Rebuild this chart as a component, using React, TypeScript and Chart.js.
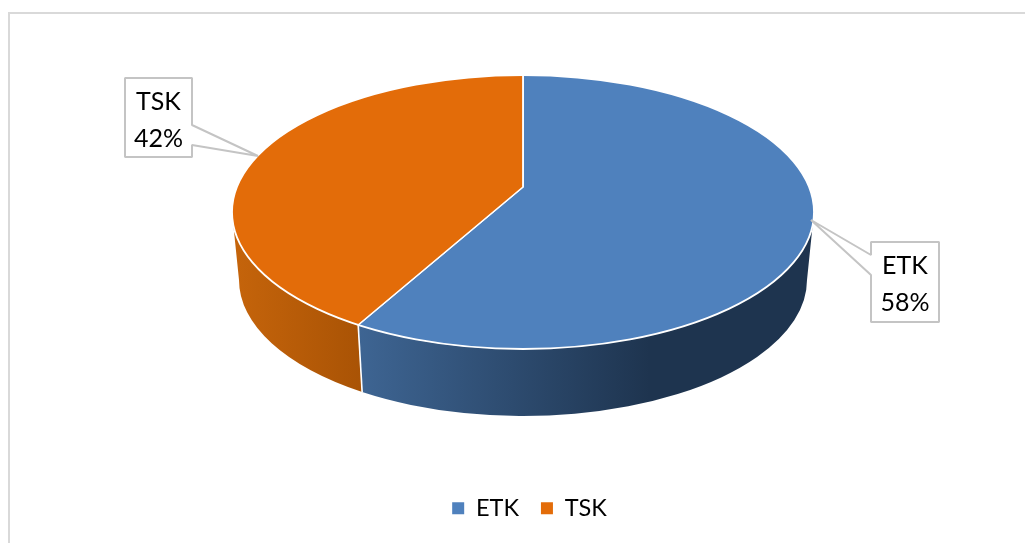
import React, { useEffect, useRef } from "react";
import { Chart, registerables } from "chart.js";

Chart.register(...registerables);

const categories = ["ETK", "TSK"];
const shares = [58, 42];
const topColors = ["#4f81bd", "#e36c09"];
const sideRamps = [
  { from: 358, to: 650, start: "#3e6593", end: "#1e344f" },
  { from: 235, to: 362, start: "#c5640b", end: "#a95305" },
];

const FONT = "Lato, 'Noto Sans', sans-serif";

// Geometry of the tilted disc: top face, its bottom rim, and the point the slices meet.
const top = { x: 523, y: 212, rx: 291, ry: 137 };
const rim = { x: 523, y: 280, rx: 284, ry: 136 };
const hub = { x: 523, y: 187 };
const tilt = 0.46;

// Callout boxes beside the disc; one entry per category.
const callouts = [
  { box: [871, 242, 939, 322], tip: [811, 220], base: [[871, 255], [871, 275]], side: "left" },
  { box: [125, 78, 192, 157], tip: [258, 156], base: [[192, 125], [192, 145]], side: "right" },
];

// Ellipse parameter of the rim point reached from the hub along a slice edge.
function rimParam(angle: number) {
  const dx = Math.cos(angle);
  const dy = Math.sin(angle) * tilt;
  const ox = (hub.x - top.x) / top.rx;
  const oy = (hub.y - top.y) / top.ry;
  const ux = dx / top.rx;
  const uy = dy / top.ry;
  const a = ux * ux + uy * uy;
  const b = 2 * (ox * ux + oy * uy);
  const c = ox * ox + oy * oy - 1;
  const t = (-b + Math.sqrt(b * b - 4 * a * c)) / (2 * a);
  let theta = Math.atan2(oy + t * uy, ox + t * ux);
  while (theta < angle - Math.PI) theta += 2 * Math.PI;
  while (theta > angle + Math.PI) theta -= 2 * Math.PI;
  return theta;
}

const discPlugin = {
  id: "disc",
  beforeDraw(chart: any) {
    const { ctx } = chart;
    ctx.save();
    ctx.strokeStyle = "#d9d9d9";
    ctx.lineWidth = 2;
    ctx.beginPath();
    ctx.moveTo(9, 543);
    ctx.lineTo(9, 13);
    ctx.lineTo(1025, 13);
    ctx.stroke();
    ctx.restore();
  },
  beforeDatasetsDraw(chart: any) {
    const { ctx } = chart;
    const arcs = chart.getDatasetMeta(0).data;

    // Side wall, one piece per slice, limited to the near half of the disc.
    ctx.save();
    arcs.forEach((arc: any, i: number) => {
      const from = Math.max(0, rimParam(arc.startAngle));
      const to = Math.min(Math.PI, rimParam(arc.endAngle));
      if (to <= from) return;
      const ramp = sideRamps[i];
      const fill = ctx.createLinearGradient(ramp.from, 0, ramp.to, 0);
      fill.addColorStop(0, ramp.start);
      fill.addColorStop(1, ramp.end);
      ctx.fillStyle = fill;
      ctx.beginPath();
      ctx.ellipse(top.x, top.y, top.rx, top.ry, 0, from, to, false);
      ctx.ellipse(rim.x, rim.y, rim.rx, rim.ry, 0, to, from, true);
      ctx.closePath();
      ctx.fill();
    });

    // Seam where the slices meet on the wall.
    const seam = rimParam(arcs[0].endAngle);
    ctx.strokeStyle = "#ffffff";
    ctx.lineWidth = 1.6;
    ctx.beginPath();
    ctx.moveTo(top.x + top.rx * Math.cos(seam), top.y + top.ry * Math.sin(seam));
    ctx.lineTo(rim.x + rim.rx * Math.cos(seam), rim.y + rim.ry * Math.sin(seam));
    ctx.stroke();
    ctx.restore();

    // Top face: the library's arcs squashed about the hub and cut to the ellipse.
    ctx.save();
    ctx.beginPath();
    ctx.ellipse(top.x, top.y, top.rx, top.ry, 0, 0, Math.PI * 2);
    ctx.clip();
    ctx.translate(hub.x, hub.y);
    ctx.scale(1, tilt);
    ctx.translate(-arcs[0].x, -arcs[0].y);
  },
  afterDatasetsDraw(chart: any) {
    const { ctx } = chart;
    ctx.restore();

    ctx.save();
    ctx.strokeStyle = "#ffffff";
    ctx.lineWidth = 1.8;
    ctx.beginPath();
    ctx.ellipse(top.x, top.y, top.rx, top.ry, 0, 0, Math.PI * 2);
    ctx.stroke();

    // Value callouts.
    const total = shares.reduce((sum, v) => sum + v, 0);
    callouts.forEach((c, i) => {
      const [l, t, r, b] = c.box;
      ctx.beginPath();
      ctx.moveTo(l, t);
      ctx.lineTo(r, t);
      if (c.side === "right") {
        ctx.lineTo(c.base[0][0], c.base[0][1]);
        ctx.lineTo(c.tip[0], c.tip[1]);
        ctx.lineTo(c.base[1][0], c.base[1][1]);
      }
      ctx.lineTo(r, b);
      ctx.lineTo(l, b);
      if (c.side === "left") {
        ctx.lineTo(c.base[1][0], c.base[1][1]);
        ctx.lineTo(c.tip[0], c.tip[1]);
        ctx.lineTo(c.base[0][0], c.base[0][1]);
      }
      ctx.closePath();
      ctx.fillStyle = "#ffffff";
      ctx.fill();
      ctx.strokeStyle = "#c4c4c4";
      ctx.lineWidth = 2;
      ctx.lineJoin = "bevel";
      ctx.stroke();

      ctx.fillStyle = "#000000";
      ctx.font = `25px ${FONT}`;
      ctx.textAlign = "center";
      ctx.textBaseline = "middle";
      const mid = (l + r) / 2;
      ctx.fillText(categories[i], mid, t + 24);
      ctx.fillText(`${Math.round((shares[i] / total) * 100)}%`, mid, t + 61);
    });
    ctx.restore();
  },
};

export default function App() {
  const ref = useRef<HTMLCanvasElement>(null);

  useEffect(() => {
    const chart = new Chart(ref.current as HTMLCanvasElement, {
      type: "pie",
      data: {
        labels: categories,
        datasets: [
          {
            data: shares,
            backgroundColor: topColors,
            borderColor: "#ffffff",
            borderWidth: 1.8,
            clip: false,
          } as any,
        ],
      },
      options: {
        responsive: false,
        animation: false,
        radius: 400,
        layout: { padding: { left: 34, bottom: 13 } },
        plugins: {
          tooltip: { enabled: false },
          legend: {
            position: "bottom",
            labels: {
              boxWidth: 12,
              boxHeight: 12,
              padding: 22,
              color: "#000000",
              font: { family: FONT, size: 23.5 },
              generateLabels: (c: Chart) =>
                (Chart.overrides.pie.plugins.legend.labels as any)
                  .generateLabels(c)
                  .map((item: any) => ({ ...item, lineWidth: 0 })),
            },
          },
        },
      } as any,
      plugins: [discPlugin],
    });
    return () => chart.destroy();
  }, []);

  return (
    <div style={{ position: "absolute", left: 0, top: 0, width: 1025, height: 543, background: "#ffffff" }}>
      <canvas ref={ref} width={1025} height={543} style={{ display: "block" }} />
    </div>
  );
}
